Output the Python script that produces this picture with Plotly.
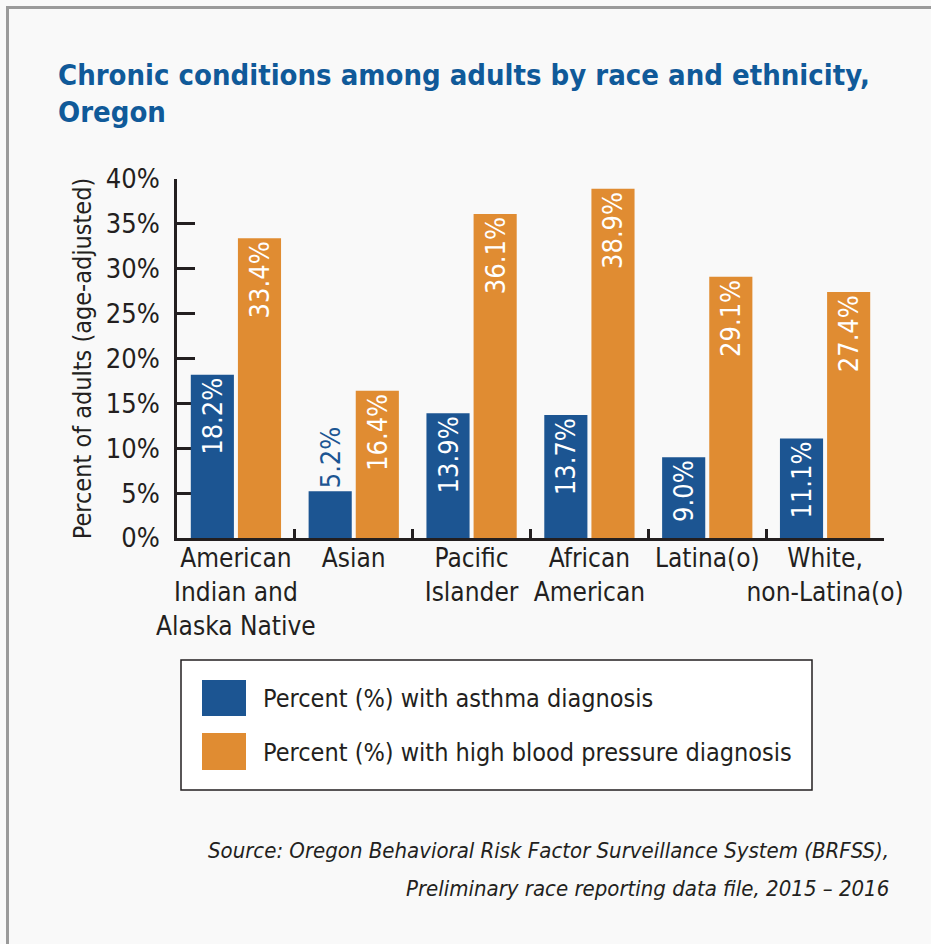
import plotly.graph_objects as go

# Chart data
categories = [
    "American<br>Indian and<br>Alaska Native",
    "Asian",
    "Pacific<br>Islander",
    "African<br>American",
    "Latina(o)",
    "White,<br>non-Latina(o)",
]
asthma = [18.2, 5.2, 13.9, 13.7, 9.0, 11.1]
blood_pressure = [33.4, 16.4, 36.1, 38.9, 29.1, 27.4]
series_names = [
    "Percent (%) with asthma diagnosis",
    "Percent (%) with high blood pressure diagnosis",
]
y_ticks = [0, 5, 10, 15, 20, 25, 30, 35, 40]
y_tick_labels = [f"{v}%" for v in y_ticks]

title_lines = ["Chronic conditions among adults by race and ethnicity,", "Oregon"]
source_lines = [
    "Source: Oregon Behavioral Risk Factor Surveillance System (BRFSS),",
    "Preliminary race reporting data file, 2015 \u2013 2016",
]

# Styling
FONT = "DejaVu Sans Condensed, DejaVu Sans, sans-serif"
BLUE = "#1c5592"
ORANGE = "#e08c32"
TITLE_BLUE = "#105a99"
INK = "#231f20"
BG = "#f9f9f9"

W, H = 931, 944
L, R, T, B = 177, 47, 179, 406
PW, PH = W - L - R, H - T - B


def px(x):
    return (x - L) / PW


def py(y):
    return (H - B - y) / PH


fig = go.Figure()
for name, vals, color in [
    (series_names[0], asthma, BLUE),
    (series_names[1], blood_pressure, ORANGE),
]:
    fig.add_trace(
        go.Bar(
            x=categories,
            y=vals,
            name=name,
            marker=dict(color=color, line=dict(width=0)),
            text=[f"{v:.1f}%" for v in vals],
            # short bars carry their label above the bar
            textposition=["inside" if v >= 8 else "outside" for v in vals],
            insidetextanchor="end",
            textangle=-90,
            constraintext="none",
            insidetextfont=dict(color="white", size=27, family=FONT),
            outsidetextfont=dict(color=color, size=27, family=FONT),
            cliponaxis=False,
            hoverinfo="skip",
        )
    )

fig.update_layout(
    width=W,
    height=H,
    margin=dict(l=L, r=R, t=T, b=B, autoexpand=False),
    paper_bgcolor=BG,
    plot_bgcolor=BG,
    barmode="group",
    bargap=0.2,
    bargroupgap=0.085,
    showlegend=False,
    font=dict(family=FONT, color=INK, size=26),
)

fig.update_yaxes(
    range=[0, 40],
    tickvals=y_ticks,
    ticktext=y_tick_labels,
    ticks="inside",
    ticklen=18,
    tickwidth=2.5,
    tickcolor=INK,
    showline=True,
    linecolor=INK,
    linewidth=2.5,
    showgrid=False,
    zeroline=False,
    automargin=False,
    layer="below traces",
    ticklabelstandoff=9,
    tickfont=dict(size=27, family=FONT, color=INK),
    title=dict(
        text="Percent of adults (age-adjusted)",
        font=dict(size=25, family=FONT, color=INK),
        standoff=8,
    ),
)

fig.update_xaxes(
    ticks="inside",
    tickson="boundaries",
    ticklen=9,
    tickwidth=2.5,
    tickcolor=INK,
    tickangle=0,
    showline=True,
    linecolor=INK,
    linewidth=2.5,
    showgrid=False,
    automargin=False,
    layer="below traces",
    ticklabelstandoff=-5,
    tickfont=dict(size=26, family=FONT, color=INK),
)

shapes = []
# frame lines along the top and left edges
shapes.append(
    dict(
        type="path",
        xref="paper",
        yref="paper",
        path=f"M {px(7.5)},{py(950)} L {px(7.5)},{py(7.5)} L {px(940)},{py(7.5)}",
        line=dict(color="#9a9a9a", width=3),
    )
)
# legend box and swatches
shapes.append(
    dict(
        type="rect", xref="paper", yref="paper",
        x0=px(181), x1=px(812), y0=py(790), y1=py(660),
        line=dict(color=INK, width=1.5), fillcolor="white",
    )
)
shapes.append(
    dict(
        type="rect", xref="paper", yref="paper",
        x0=px(202), x1=px(246), y0=py(716), y1=py(680),
        line=dict(width=0), fillcolor=BLUE,
    )
)
shapes.append(
    dict(
        type="rect", xref="paper", yref="paper",
        x0=px(202), x1=px(246), y0=py(770), y1=py(733),
        line=dict(width=0), fillcolor=ORANGE,
    )
)
fig.update_layout(shapes=shapes)

annotations = []
for line, yc in zip(title_lines, [75, 112]):
    annotations.append(
        dict(
            text=f"<b>{line}</b>", xref="paper", yref="paper",
            x=px(56), y=py(yc), xanchor="left", yanchor="middle",
            showarrow=False, font=dict(size=29, family=FONT, color=TITLE_BLUE),
        )
    )
for name, yc in zip(series_names, [698, 752]):
    annotations.append(
        dict(
            text=name, xref="paper", yref="paper",
            x=px(261), y=py(yc), xanchor="left", yanchor="middle",
            showarrow=False, font=dict(size=25, family=FONT, color=INK),
        )
    )
for line, yc in zip(source_lines, [850, 888]):
    annotations.append(
        dict(
            text=f"<i>{line}</i>", xref="paper", yref="paper",
            x=px(891), y=py(yc), xanchor="right", yanchor="middle",
            showarrow=False, font=dict(size=22, family=FONT, color=INK),
        )
    )
fig.update_layout(annotations=annotations)

fig.write_html("out.html")
